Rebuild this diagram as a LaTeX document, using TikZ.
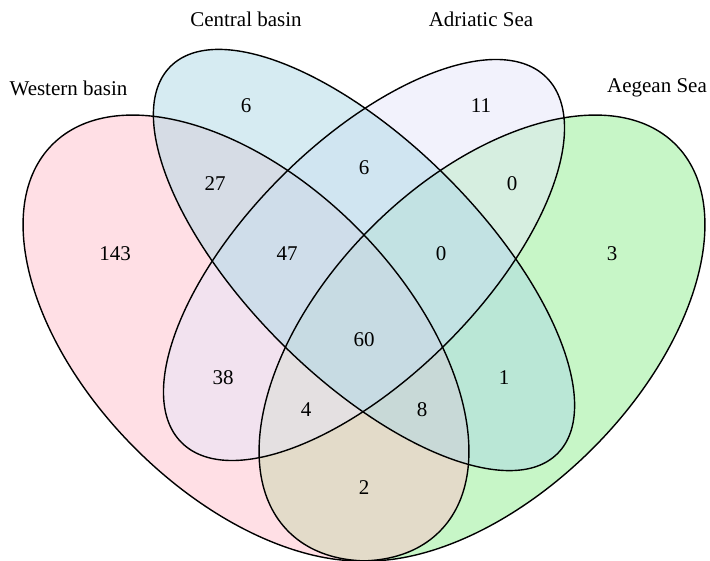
\documentclass[tikz,border=0pt]{standalone}
\usepackage{fontspec}
\setmainfont{Liberation Serif}
\definecolor{westcol}{RGB}{255,192,203}
\definecolor{centcol}{RGB}{173,216,230}
\definecolor{adricol}{RGB}{230,230,250}
\definecolor{aegecol}{RGB}{144,238,144}

\begin{document}
\begin{tikzpicture}[x=1pt, y=1pt,
  setfill/.style={fill opacity=0.5},
  setline/.style={line width=1.4pt},
  setname/.style={font=\fontsize{21}{25}\selectfont},
  count/.style={font=\fontsize{21}{25}\selectfont}]

\useasboundingbox (0,0) rectangle (710,560);
\clip (0,0) rectangle (710,560);

% Fills
\fill [aegecol, setfill, rotate around={45:(482,222)}] (482,222) ellipse (273.7 and 156.4);
\fill [westcol, setfill, rotate around={135:(246,222)}] (246,222) ellipse (273.7 and 156.4);
\fill [adricol, setfill, rotate around={45:(364,300)}] (364,300) ellipse (258.1 and 117.3);
\fill [centcol, setfill, rotate around={135:(364,300)}] (364,300) ellipse (273.7 and 117.3);

% Outlines
\draw [setline, rotate around={135:(246,222)}] (246,222) ellipse (273.7 and 156.4);
\draw [setline, rotate around={135:(364,300)}] (364,300) ellipse (273.7 and 117.3);
\draw [setline, rotate around={45:(364,300)}] (364,300) ellipse (258.1 and 117.3);
\draw [setline, rotate around={45:(482,222)}] (482,222) ellipse (273.7 and 156.4);

% Set names
\node [setname, anchor=east] (westname) at (131,472) {Western basin};
\node [setname] (centname) at (246,541) {Central basin};
\node [setname] (adriname) at (481,541) {Adriatic Sea};
\node [setname] (aegename) at (657,472) {Aegean Sea};

% Counts
\node [count] (w) at (115,306) {143};
\node [count] (c) at (246,454) {6};
\node [count] (a) at (481,454) {11};
\node [count] (e) at (612,306) {3};
\node [count] (wc) at (215,376) {27};
\node [count] (ca) at (364,392) {6};
\node [count] (ae) at (512,376) {0};
\node [count] (wca) at (287,306) {47};
\node [count] (cae) at (441,306) {0};
\node [count] (wcae) at (364,220) {60};
\node [count] (wa) at (223,182) {38};
\node [count] (ce) at (504,182) {1};
\node [count] (wae) at (306,150) {4};
\node [count] (wce) at (422,150) {8};
\node [count] (we) at (364,72) {2};

\end{tikzpicture}
\end{document}
